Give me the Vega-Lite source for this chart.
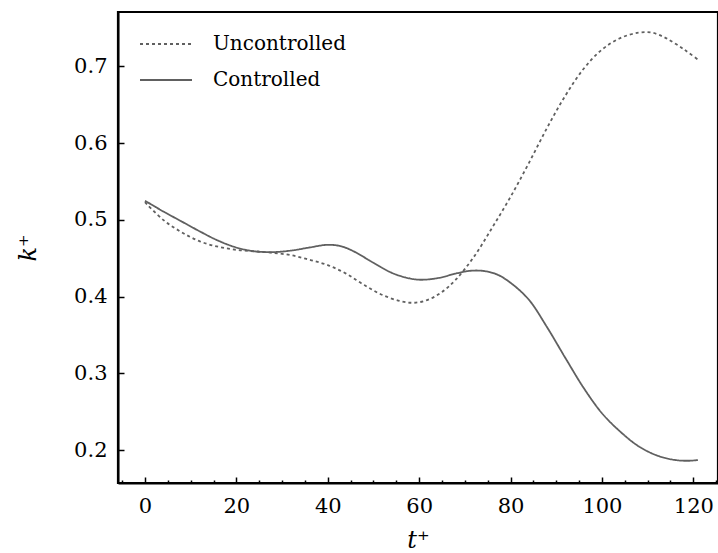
{
  "$schema": "https://vega.github.io/schema/vega-lite/v6.json",
  "width": 600,
  "height": 471,
  "autosize": "none",
  "padding": {"left": 118, "top": 12, "right": 0, "bottom": 70},
  "background": "white",
  "config": {
    "font": "DejaVu Serif",
    "view": {"stroke": "black", "strokeWidth": 2.2},
    "axis": {
      "domainColor": "black",
      "domainWidth": 2,
      "tickColor": "black",
      "tickWidth": 1.5,
      "grid": false,
      "zindex": 1,
      "labelFont": "DejaVu Serif",
      "labelFontSize": 21,
      "labelColor": "black",
      "titleFont": "DejaVu Serif",
      "titleFontSize": 24,
      "titleFontWeight": "normal",
      "titleFontStyle": "italic",
      "titleColor": "black"
    }
  },
  "datasets": {
    "curves": [
      {"t": 0, "k": 0.523, "case": "Uncontrolled"},
      {"t": 4, "k": 0.500, "case": "Uncontrolled"},
      {"t": 8, "k": 0.484, "case": "Uncontrolled"},
      {"t": 12, "k": 0.472, "case": "Uncontrolled"},
      {"t": 16, "k": 0.465, "case": "Uncontrolled"},
      {"t": 20, "k": 0.461, "case": "Uncontrolled"},
      {"t": 24, "k": 0.459, "case": "Uncontrolled"},
      {"t": 28, "k": 0.457, "case": "Uncontrolled"},
      {"t": 32, "k": 0.454, "case": "Uncontrolled"},
      {"t": 36, "k": 0.448, "case": "Uncontrolled"},
      {"t": 40, "k": 0.441, "case": "Uncontrolled"},
      {"t": 44, "k": 0.430, "case": "Uncontrolled"},
      {"t": 48, "k": 0.415, "case": "Uncontrolled"},
      {"t": 52, "k": 0.402, "case": "Uncontrolled"},
      {"t": 56, "k": 0.394, "case": "Uncontrolled"},
      {"t": 59, "k": 0.392, "case": "Uncontrolled"},
      {"t": 62, "k": 0.396, "case": "Uncontrolled"},
      {"t": 65, "k": 0.406, "case": "Uncontrolled"},
      {"t": 68, "k": 0.422, "case": "Uncontrolled"},
      {"t": 72, "k": 0.452, "case": "Uncontrolled"},
      {"t": 76, "k": 0.490, "case": "Uncontrolled"},
      {"t": 80, "k": 0.530, "case": "Uncontrolled"},
      {"t": 84, "k": 0.574, "case": "Uncontrolled"},
      {"t": 88, "k": 0.620, "case": "Uncontrolled"},
      {"t": 92, "k": 0.662, "case": "Uncontrolled"},
      {"t": 96, "k": 0.697, "case": "Uncontrolled"},
      {"t": 100, "k": 0.722, "case": "Uncontrolled"},
      {"t": 104, "k": 0.737, "case": "Uncontrolled"},
      {"t": 108, "k": 0.744, "case": "Uncontrolled"},
      {"t": 111, "k": 0.744, "case": "Uncontrolled"},
      {"t": 114, "k": 0.737, "case": "Uncontrolled"},
      {"t": 118, "k": 0.722, "case": "Uncontrolled"},
      {"t": 121, "k": 0.709, "case": "Uncontrolled"},
      {"t": 0, "k": 0.525, "case": "Controlled"},
      {"t": 4, "k": 0.511, "case": "Controlled"},
      {"t": 8, "k": 0.498, "case": "Controlled"},
      {"t": 12, "k": 0.485, "case": "Controlled"},
      {"t": 16, "k": 0.473, "case": "Controlled"},
      {"t": 20, "k": 0.464, "case": "Controlled"},
      {"t": 24, "k": 0.459, "case": "Controlled"},
      {"t": 28, "k": 0.458, "case": "Controlled"},
      {"t": 32, "k": 0.460, "case": "Controlled"},
      {"t": 36, "k": 0.464, "case": "Controlled"},
      {"t": 40, "k": 0.4675, "case": "Controlled"},
      {"t": 43, "k": 0.4655, "case": "Controlled"},
      {"t": 46, "k": 0.458, "case": "Controlled"},
      {"t": 50, "k": 0.444, "case": "Controlled"},
      {"t": 54, "k": 0.431, "case": "Controlled"},
      {"t": 57, "k": 0.425, "case": "Controlled"},
      {"t": 60, "k": 0.422, "case": "Controlled"},
      {"t": 64, "k": 0.424, "case": "Controlled"},
      {"t": 68, "k": 0.430, "case": "Controlled"},
      {"t": 71, "k": 0.4335, "case": "Controlled"},
      {"t": 74, "k": 0.4335, "case": "Controlled"},
      {"t": 77, "k": 0.429, "case": "Controlled"},
      {"t": 80, "k": 0.418, "case": "Controlled"},
      {"t": 84, "k": 0.396, "case": "Controlled"},
      {"t": 88, "k": 0.360, "case": "Controlled"},
      {"t": 92, "k": 0.320, "case": "Controlled"},
      {"t": 96, "k": 0.281, "case": "Controlled"},
      {"t": 100, "k": 0.248, "case": "Controlled"},
      {"t": 104, "k": 0.224, "case": "Controlled"},
      {"t": 108, "k": 0.205, "case": "Controlled"},
      {"t": 112, "k": 0.193, "case": "Controlled"},
      {"t": 116, "k": 0.187, "case": "Controlled"},
      {"t": 119, "k": 0.186, "case": "Controlled"},
      {"t": 121, "k": 0.187, "case": "Controlled"}
    ],
    "minor": [
      {"t": -5}, {"t": 5}, {"t": 10}, {"t": 15}, {"t": 25}, {"t": 30}, {"t": 35},
      {"t": 45}, {"t": 50}, {"t": 55}, {"t": 65}, {"t": 70}, {"t": 75},
      {"t": 85}, {"t": 90}, {"t": 95}, {"t": 105}, {"t": 110}, {"t": 115}, {"t": 125}
    ]
  },
  "layer": [
    {
      "data": {"name": "curves"},
      "mark": {"type": "line", "interpolate": "catmull-rom", "strokeWidth": 1.8, "color": "#606060"},
      "encoding": {
        "x": {
          "field": "t", "type": "quantitative",
          "scale": {"domain": [-5.9, 125.4], "nice": false, "zero": false},
          "axis": {"orient": "bottom", "title": "t⁺", "values": [0, 20, 40, 60, 80, 100, 120], "ticks": false, "labelPadding": 12, "titleY": 64, "titleBaseline": "alphabetic"}
        },
        "y": {
          "field": "k", "type": "quantitative",
          "scale": {"domain": [0.157, 0.771], "nice": false, "zero": false},
          "axis": {"orient": "left", "title": "k⁺", "values": [0.2, 0.3, 0.4, 0.5, 0.6, 0.7], "format": ".1f", "ticks": false, "labelPadding": 11, "titleX": -83, "titleBaseline": "alphabetic", "titleAngle": -90}
        },
        "strokeDash": {
          "field": "case", "type": "nominal",
          "scale": {"domain": ["Uncontrolled", "Controlled"], "range": [[3, 3], [1, 0]]},
          "legend": {
            "title": null,
            "orient": "none",
            "legendX": 38,
            "legendY": 22,
            "symbolType": "M-4,0H4",
            "symbolSize": 169,
            "symbolStrokeWidth": 1.8,
            "symbolStrokeColor": "#606060",
            "labelFont": "DejaVu Serif",
            "labelFontSize": 20,
            "labelColor": "black",
            "labelOffset": 37,
            "rowPadding": 16
          }
        }
      }
    },
    {
      "data": {"name": "curves"},
      "mark": {"type": "point", "opacity": 0},
      "encoding": {
        "x": {
          "field": "t", "type": "quantitative",
          "axis": {"orient": "top", "offset": -471, "title": null, "values": [0, 20, 40, 60, 80, 100, 120], "labels": false, "tickSize": 6, "domain": false}
        },
        "y": {
          "field": "k", "type": "quantitative",
          "axis": {"orient": "right", "offset": -600, "title": null, "values": [0.2, 0.3, 0.4, 0.5, 0.6, 0.7], "labels": false, "tickSize": 6, "domain": false}
        }
      }
    },
    {
      "data": {"name": "minor"},
      "mark": {"type": "point", "opacity": 0},
      "encoding": {
        "x": {
          "field": "t", "type": "quantitative",
          "axis": {"orient": "top", "offset": -471, "title": null, "values": [-5, 5, 10, 15, 25, 30, 35, 45, 50, 55, 65, 70, 75, 85, 90, 95, 105, 110, 115, 125], "labels": false, "tickSize": 3, "domain": false}
        }
      }
    }
  ],
  "resolve": {"axis": {"x": "independent", "y": "independent"}}
}
